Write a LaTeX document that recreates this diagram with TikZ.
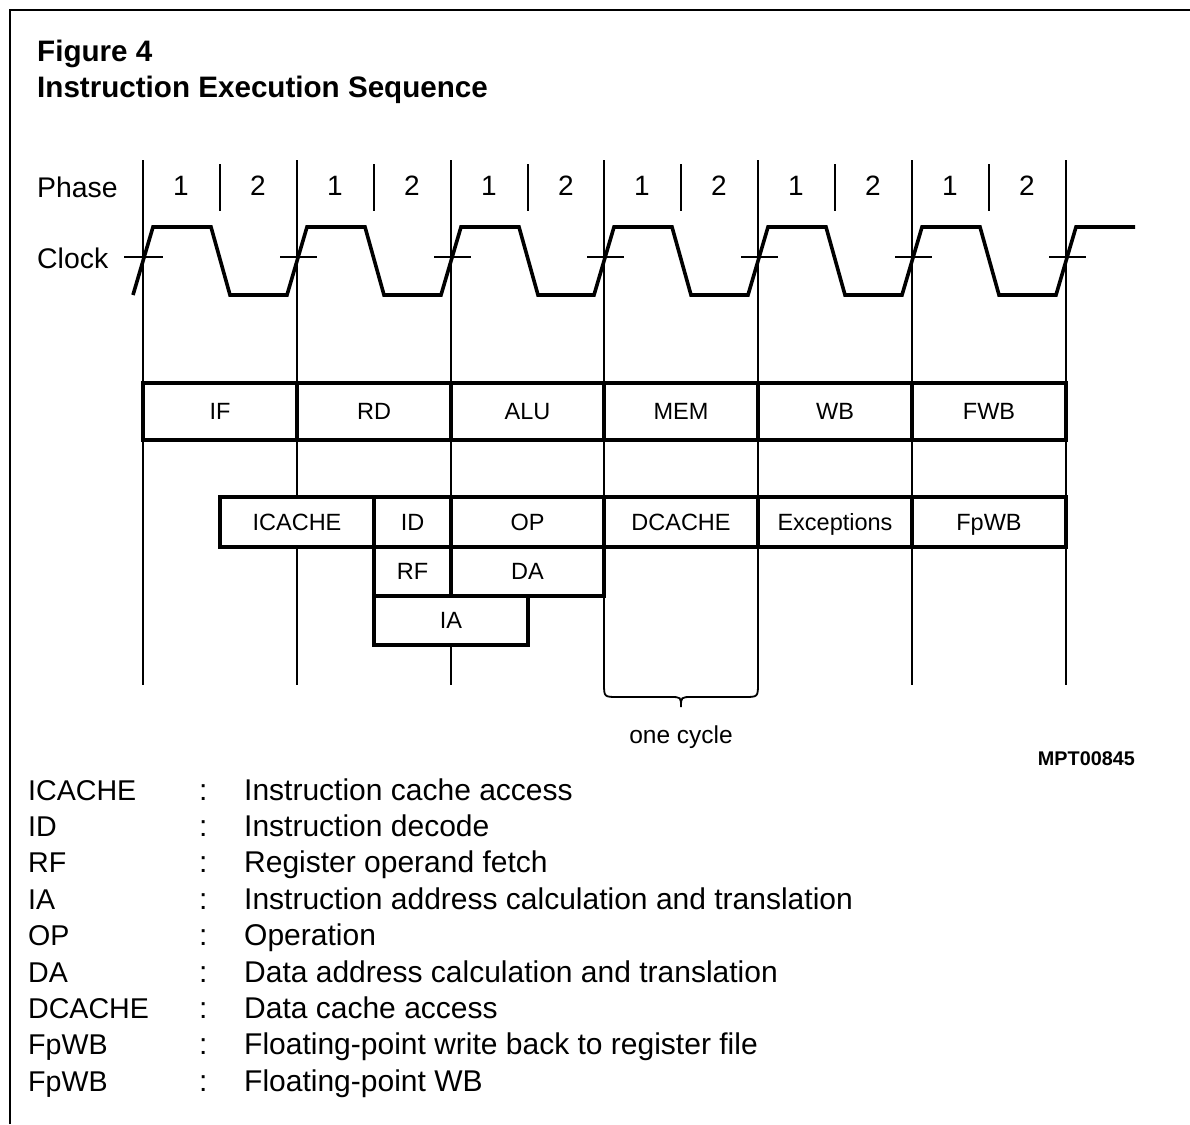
\documentclass[tikz,border=0pt]{standalone}
\usepackage{fontspec}
\setmainfont{Liberation Sans}
\begin{document}
\begin{tikzpicture}[x=1pt,y=-1pt]
\tikzset{
  frame/.style={line width=2.5pt},
  guide/.style={line width=1.8pt},
  clk/.style={line width=3.6pt, line join=miter},
  cell/.style={draw, line width=3.2pt, fill=white, inner sep=0pt,
    text height=16.8pt, text depth=0pt, font=\fontsize{23.5}{28}\selectfont},
  lbl/.style={inner sep=0pt, anchor=base west, font=\fontsize{28.4}{34}\selectfont},
  digit/.style={inner sep=0pt, anchor=base, font=\fontsize{28}{34}\selectfont},
  ttl/.style={inner sep=0pt, anchor=base west, font=\bfseries\fontsize{29.6}{34}\selectfont},
  leg/.style={inner sep=0pt, anchor=base west, font=\fontsize{30}{36}\selectfont},
  legk/.style={inner sep=0pt, anchor=base west, font=\fontsize{28.6}{36}\selectfont},
}
\useasboundingbox (0,0) rectangle (1190,1124);
\fill[white] (0,0) rectangle (1190,1124);

% frame
\draw[frame] (10,1124) -- (10,10) -- (1190,10);

% title
\node[ttl] (t1) at (37,62) {Figure 4};
\node[ttl] (t2) at (37,97) {Instruction Execution Sequence};

% row labels
\node[lbl] (phase) at (37,197) {Phase};
\node[lbl] (clock) at (37,268) {Clock};

% cycle guide lines
\foreach \x in {143,297,451,604,758,912,1066}
  \draw[guide] (\x,160) -- (\x,685);
% phase separators and digits
\foreach \x [count=\i] in {143,297,451,604,758,912} {
  \draw[guide] ({\x+77},164) -- ({\x+77},211);
  \node[digit] (pa\i) at ({\x+38},195) {1};
  \node[digit] (pb\i) at ({\x+115},195) {2};
}
% clock threshold ticks
\draw[guide] (124,257) -- (163,257);
\foreach \x in {297,451,604,758,912,1066}
  \draw[guide] ({\x-17},257) -- ({\x+20},257);

% clock waveform
\draw[clk] (133,295) -- (153,227) -- (211,227) -- (230,295) -- (287,295)
  -- (307,227) -- (365,227) -- (384,295) -- (441,295)
  -- (461,227) -- (519,227) -- (538,295) -- (594,295)
  -- (614,227) -- (672,227) -- (691,295) -- (748,295)
  -- (768,227) -- (826,227) -- (845,295) -- (902,295)
  -- (922,227) -- (980,227) -- (999,295) -- (1056,295)
  -- (1076,227) -- (1135,227);

% row 1
\node[cell, minimum width=154pt, minimum height=57pt] (IF)  at (220,411.5)  {IF};
\node[cell, minimum width=154pt, minimum height=57pt] (RD)  at (374,411.5)  {RD};
\node[cell, minimum width=153pt, minimum height=57pt] (ALU) at (527.5,411.5) {ALU};
\node[cell, minimum width=154pt, minimum height=57pt] (MEM) at (681,411.5)  {MEM};
\node[cell, minimum width=154pt, minimum height=57pt] (WB)  at (835,411.5)  {WB};
\node[cell, minimum width=154pt, minimum height=57pt] (FWB) at (989,411.5)  {FWB};

% row 2
\node[cell, minimum width=154pt, minimum height=50pt] (ICACHE) at (297,522) {ICACHE};
\node[cell, minimum width=77pt,  minimum height=50pt] (ID)     at (412.5,522) {ID};
\node[cell, minimum width=153pt, minimum height=50pt] (OP)     at (527.5,522) {OP};
\node[cell, minimum width=154pt, minimum height=50pt] (DCACHE) at (681,522) {DCACHE};
\node[cell, minimum width=154pt, minimum height=50pt] (EXC)    at (835,522) {Exceptions};
\node[cell, minimum width=154pt, minimum height=50pt] (FPWB)   at (989,522) {FpWB};

% row 3
\node[cell, minimum width=77pt,  minimum height=49pt] (RF) at (412.5,571.5) {RF};
\node[cell, minimum width=153pt, minimum height=49pt] (DA) at (527.5,571.5) {DA};

% row 4
\node[cell, minimum width=154pt, minimum height=49pt] (IA) at (451,620.5) {IA};

% one cycle brace
\draw[guide] (604,683) .. controls (604,697) .. (618,697) -- (670,697)
  .. controls (681,697) .. (681,707) .. controls (681,697) .. (692,697)
  -- (744,697) .. controls (758,697) .. (758,683);
\node[inner sep=0pt, anchor=base, font=\fontsize{24.5}{30}\selectfont] (cyc) at (681,743) {one cycle};
\node[inner sep=0pt, anchor=base east, font=\bfseries\fontsize{19.8}{24}\selectfont] (mpt) at (1135,765) {MPT00845};

% legend
\foreach \a/\b [count=\i] in {ICACHE/Instruction cache access,
  ID/Instruction decode,
  RF/Register operand fetch,
  IA/Instruction address calculation and translation,
  OP/Operation,
  DA/Data address calculation and translation,
  DCACHE/Data cache access,
  FpWB/Floating-point write back to register file,
  FpWB/Floating-point WB} {
  \node[legk] (la\i) at (28,{800+36.4*(\i-1)}) {\a};
  \node[leg] (lc\i) at (199,{800+36.4*(\i-1)}) {:};
  \node[leg] (lb\i) at (244,{800+36.4*(\i-1)}) {\b};
}
\end{tikzpicture}
\end{document}
